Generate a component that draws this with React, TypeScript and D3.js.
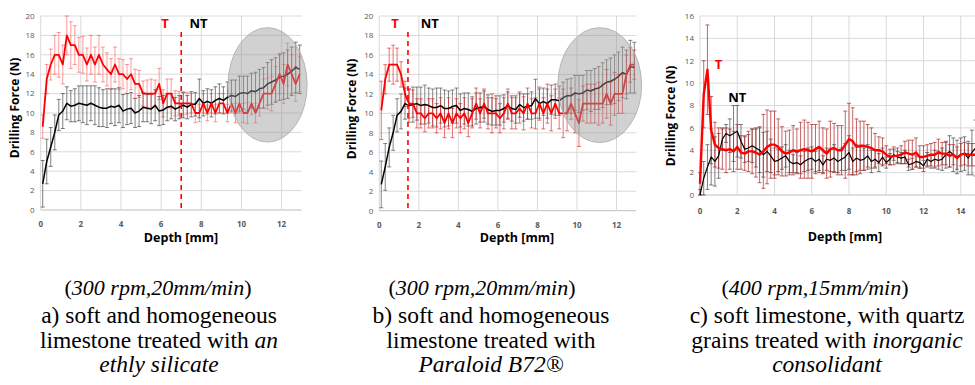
import React from 'react';
import * as d3 from 'd3';

// ---------- data ----------
const DEPTH_AB = d3.range(65).map((i) => +(0.1 + 0.2 * i).toFixed(1));
const DEPTH_C = d3.range(78).map((i) => +(0.2 * i).toFixed(1));

const X_TICKS_AB = [0, 2, 4, 6, 8, 10, 12];
const Y_TICKS_AB = [0, 2, 4, 6, 8, 10, 12, 14, 16, 18, 20];
const X_TICKS_C = [0, 2, 4, 6, 8, 10, 12, 14];
const Y_TICKS_C = [0, 2, 4, 6, 8, 10, 12, 14, 16];

const A_T = [
  8.6, 13.5, 15, 16, 16, 15, 18, 17, 17, 16,
  16, 15, 16, 15, 16, 15, 14.5, 14, 15, 14,
  14, 13.5, 14, 13, 13, 12, 12, 12, 12, 13,
  11, 12, 12, 11, 11, 11, 11, 11, 10, 10,
  11, 10, 11, 10, 11, 11, 10, 11, 10, 11,
  10, 10, 11, 10, 11, 12, 12, 12, 13, 14,
  13, 15, 14, 13, 14,
];
const A_T_ERR = [
  1.2, 1.5, 1.6, 2.0, 2.3, 2.0, 2.0, 2.4, 2.0, 1.8,
  1.9, 1.7, 2.0, 1.8, 2.0, 1.8, 1.7, 1.6, 1.8, 1.6,
  1.5, 1.5, 1.6, 1.5, 1.4, 1.3, 1.4, 1.5, 1.4, 1.6,
  1.4, 1.5, 1.5, 1.3, 1.2, 1.2, 1.1, 1.0, 1.0, 0.9,
  1.0, 0.8, 1.0, 0.9, 1.0, 1.0, 0.9, 1.0, 1.0, 1.0,
  1.0, 1.1, 1.2, 1.0, 1.3, 1.5, 1.6, 1.8, 1.8, 2.0,
  2.0, 2.2, 2.0, 1.8, 1.8,
];
const A_NT = [
  2.7, 5.0, 6.5, 8.0, 9.8, 10.2, 11.0, 10.7, 10.8, 11.0,
  10.9, 10.8, 11.0, 10.8, 10.6, 10.5, 10.5, 10.7, 10.6, 10.8,
  10.2, 10.4, 10.5, 10.0, 10.2, 10.6, 10.5, 10.4, 10.8, 10.2,
  10.3, 10.6, 10.7, 10.4, 10.6, 10.8, 10.6, 10.9, 10.9, 11.5,
  11.0, 11.2, 11.0, 11.3, 11.5, 11.3, 11.6, 11.8, 11.7, 12.0,
  12.1, 12.0, 12.3, 12.2, 12.5, 12.6, 13.0, 13.2, 13.4, 13.7,
  13.8, 14.0, 14.3, 14.7, 14.5,
];
const A_NT_ERR = [
  2.4, 2.3, 2.0, 1.8, 1.6, 1.8, 1.7, 1.6, 1.7, 1.8,
  1.9, 2.0, 1.8, 2.0, 2.0, 1.9, 2.0, 1.8, 1.9, 1.8,
  1.7, 1.6, 1.6, 1.5, 1.6, 1.5, 1.4, 1.5, 1.6, 1.5,
  1.5, 1.4, 1.3, 1.2, 1.2, 1.3, 1.2, 1.3, 1.2, 2.0,
  1.3, 1.3, 1.4, 1.4, 1.5, 1.4, 1.6, 1.6, 1.7, 1.8,
  1.7, 1.8, 1.8, 2.0, 2.0, 2.1, 2.2, 2.3, 2.3, 2.4,
  2.4, 2.5, 2.5, 2.6, 2.5,
];

const B_T = [
  10.3, 13.5, 15, 15, 15, 14, 12, 11, 11, 10,
  10, 9.5, 10, 10, 9.5, 10, 9, 10, 9, 10,
  9.5, 10, 9, 10, 11, 10, 11, 10, 10, 10,
  9.5, 10, 11, 10, 10, 10.5, 10, 11, 10, 10,
  11, 10, 11, 10, 11, 10, 10, 10, 11, 10,
  9, 11, 11, 11, 11, 11, 11, 12, 11, 12,
  12, 12, 14, 15, 15,
];
const B_T_ERR = [
  3.0, 1.5, 1.7, 2.0, 1.7, 1.3, 1.3, 1.5, 1.4, 1.5,
  1.5, 1.4, 1.5, 1.5, 1.5, 1.6, 1.5, 1.6, 1.5, 1.5,
  1.5, 1.6, 1.4, 1.5, 1.6, 1.5, 1.5, 1.6, 2.0, 1.5,
  1.5, 1.6, 1.5, 1.6, 1.6, 1.5, 1.7, 1.6, 1.5, 1.6,
  1.7, 1.6, 2.0, 1.8, 1.5, 1.6, 2.5, 1.8, 1.6, 2.0,
  2.4, 1.8, 2.0, 2.0, 2.0, 2.2, 2.0, 2.5, 2.2, 2.2,
  2.0, 2.0, 2.0, 1.8, 1.5,
];
const B_NT = [
  2.7, 4.5, 6.5, 8.0, 9.8, 10.2, 11.0, 10.8, 10.9, 11.0,
  10.8, 10.9, 10.8, 10.6, 10.6, 10.8, 10.5, 10.5, 10.7, 10.8,
  10.3, 10.5, 10.4, 10.2, 10.5, 10.6, 10.7, 10.4, 10.2, 10.3,
  10.3, 10.5, 10.8, 10.5, 10.4, 10.9, 10.6, 10.7, 10.8, 11.5,
  11.0, 11.2, 11.0, 11.4, 11.4, 11.3, 11.6, 11.8, 11.8, 12.1,
  12.0, 12.1, 12.4, 12.3, 12.5, 12.6, 12.9, 13.2, 13.3, 13.5,
  13.8, 14.2, 14.0, 14.8, 14.7,
];
const B_NT_ERR = [
  2.4, 2.4, 2.0, 1.8, 1.7, 1.8, 1.6, 1.7, 1.8, 1.7,
  1.9, 2.0, 1.8, 1.9, 2.0, 1.8, 1.9, 1.8, 1.7, 1.8,
  1.7, 1.6, 1.7, 1.5, 1.6, 1.5, 1.6, 1.5, 1.4, 1.5,
  1.5, 1.4, 1.4, 1.3, 1.4, 1.3, 1.4, 1.3, 1.4, 2.0,
  1.5, 1.4, 1.5, 1.5, 1.6, 1.5, 1.6, 1.7, 1.8, 1.8,
  1.9, 1.8, 2.0, 2.1, 2.1, 2.2, 2.3, 2.3, 2.4, 2.5,
  2.5, 2.6, 2.5, 2.7, 2.6,
];

const C_T = [
  1.0, 9.0, 11.2, 5.8, 4.5, 4.2, 4.1, 4.0, 4.1, 3.9,
  4.3, 3.8, 3.7, 3.9, 3.9, 3.8, 3.6, 3.9, 4.3, 4.5,
  4.5, 4.3, 3.9, 3.7, 3.8, 4.0, 3.9, 4.0, 4.1, 4.0,
  3.9, 4.1, 4.3, 4.0, 3.7, 4.1, 4.2, 4.0, 4.0, 4.5,
  5.0, 4.8, 4.3, 4.4, 4.4, 4.3, 4.2, 4.0, 4.0, 3.9,
  3.6, 3.4, 3.5, 3.5, 3.6, 3.8, 3.7, 3.6, 3.8, 3.4,
  3.4, 3.5, 3.6, 3.6, 3.8, 3.7, 3.7, 3.5, 3.6, 3.3,
  3.6, 3.7, 3.6, 3.6, 3.6, 3.7, 3.9, 3.8,
];
const C_T_ERR = [
  1.0, 3.0, 4.0, 3.0, 2.0, 1.8, 1.8, 2.0, 1.8, 1.8,
  2.0, 1.5, 1.5, 1.8, 2.0, 2.2, 2.5, 3.3, 3.3, 3.0,
  3.0, 2.5, 2.2, 2.0, 2.0, 2.2, 2.0, 2.5, 2.6, 2.5,
  2.4, 2.2, 2.3, 2.0, 2.2, 2.5, 2.2, 2.2, 2.2, 3.0,
  3.2, 3.0, 2.5, 2.2, 2.2, 2.0, 1.8, 1.5, 1.2, 1.2,
  0.8, 0.7, 0.8, 0.7, 0.8, 1.0, 1.2, 1.3, 1.3, 1.0,
  1.0, 1.0, 1.0, 1.1, 1.2, 1.0, 1.0, 1.0, 0.9, 1.0,
  1.0, 1.0, 1.0, 1.0, 1.0, 1.0, 1.0, 1.0,
];
const C_NT = [
  0.0, 1.5, 2.5, 3.4, 3.0, 3.5, 5.0, 5.5, 5.3, 5.5,
  5.7, 4.8, 4.1, 4.2, 4.4, 4.2, 4.0, 3.6, 3.9, 3.5,
  3.0, 3.1, 3.3, 3.5, 3.0, 2.8, 2.9, 2.7, 3.0, 3.2,
  3.3, 3.0, 3.2, 2.7, 3.2, 3.1, 3.3, 3.0, 3.2, 3.4,
  3.8, 3.0, 3.3, 3.1, 3.2, 3.5, 3.0, 3.2, 2.9, 3.4,
  2.9, 3.2, 3.6, 3.4, 3.3, 3.4, 2.7, 2.8, 3.0, 2.9,
  2.6, 3.2, 3.0, 3.2, 3.1, 3.2, 3.6, 3.9, 3.6, 3.4,
  3.6, 3.7, 3.3, 3.8, 4.2, 4.0, 4.2, 4.1,
];
const C_NT_ERR = [
  0.5, 1.5, 2.0, 2.5, 2.2, 2.0, 1.0, 0.8, 1.5, 2.5,
  2.3, 1.5, 1.2, 1.2, 1.5, 1.7, 2.0, 2.0, 1.8, 1.5,
  1.2, 1.0, 1.0, 1.0, 1.0, 0.8, 0.9, 0.8, 0.9, 1.0,
  1.0, 0.9, 1.0, 0.8, 1.0, 1.0, 1.2, 1.0, 1.0, 1.2,
  1.5, 1.2, 1.2, 1.2, 1.0, 1.0, 1.0, 0.8, 0.8, 0.8,
  0.5, 0.5, 0.5, 0.5, 0.5, 0.6, 0.5, 0.5, 0.5, 0.5,
  0.5, 0.6, 0.6, 0.8, 0.8, 1.0, 1.2, 1.4, 1.5, 1.5,
  1.5, 1.5, 1.5, 2.0, 2.5, 2.5, 2.5, 2.5,
];

// annotation values (data units)
const DIVIDE_A = 7.0;
const DIVIDE_B = 1.45;
const ELLIPSE_A = { cx: 11.3, cy: 12.9, rx: 1.97, ry: 5.9 };
const ELLIPSE_B = { cx: 11.15, cy: 12.9, rx: 2.12, ry: 5.9 };

const CAPTION_A = ['300 rpm,20mm/min', 'a) soft and homogeneous', 'limestone treated with ', 'an', 'ethly silicate'];
const CAPTION_B = ['300 rpm,20mm/min', 'b) soft and homogeneous', 'limestone treated with', '', 'Paraloid B72®'];
const CAPTION_C = ['400 rpm,15mm/min', 'c) soft limestone, with quartz', 'grains treated with ', 'inorganic', 'consolidant'];

// ---------- styles ----------
const SANS = "'Open Sans', 'Noto Sans', sans-serif";
const SERIF = "'Liberation Serif', 'DejaVu Serif', serif";
const TICK_COLOR = '#595959';
const GRID = '#d9d9d9';

type PanelProps = {
  left: number; right: number; top: number; bottom: number;
  xMax: number; yMax: number; xTicks: number[]; yTicks: number[];
  depth: number[]; t: number[]; tErr: number[]; nt: number[]; ntErr: number[];
  tColor: string; tErrColor: string; tErrOpacity: number; tWidth: number;
  ntErrColor: string; ntErrOpacity: number; ntWidth: number;
  divide?: number; ellipse?: { cx: number; cy: number; rx: number; ry: number };
  tLabel: [number, number]; ntLabel: [number, number];
  xTitleX: number; xTitleY: number; yTitleX: number; yTitleY: number;
  xLabelDy: number;
};

function ErrorBars({ depth, vals, errs, x, y, color, opacity }: any) {
  return (
    <g stroke={color} strokeOpacity={opacity} strokeWidth={0.9} fill="none">
      {depth.map((d: number, i: number) => {
        if (vals[i] == null) return null;
        const px = x(d);
        const y1 = y(vals[i] + errs[i]);
        const y0 = y(Math.max(0, vals[i] - errs[i]));
        return (
          <g key={i}>
            <line x1={px} x2={px} y1={y1} y2={y0} />
            <line x1={px - 2} x2={px + 2} y1={y1} y2={y1} />
            <line x1={px - 2} x2={px + 2} y1={y0} y2={y0} />
          </g>
        );
      })}
    </g>
  );
}

function Panel(p: PanelProps) {
  const x = d3.scaleLinear().domain([0, p.xMax]).range([p.left, p.right]);
  const y = d3.scaleLinear().domain([0, p.yMax]).range([p.bottom, p.top]);
  const n = Math.min(p.depth.length, p.t.length);
  const line = d3.line<number>().x((_, i) => x(p.depth[i])).y((v) => y(v));
  const tPath = line(p.t.slice(0, n)) || '';
  const ntPath = line(p.nt.slice(0, Math.min(p.depth.length, p.nt.length))) || '';
  const gridX = d3.range(0, p.xMax + 0.001, 2);
  return (
    <g>
      {p.yTicks.map((v) => (
        <line key={'gy' + v} x1={p.left} x2={p.right} y1={y(v)} y2={y(v)} stroke={v === 0 ? '#bfbfbf' : GRID} strokeWidth={1} />
      ))}
      {gridX.map((v) => (
        <line key={'gx' + v} x1={x(v)} x2={x(v)} y1={p.top} y2={p.bottom} stroke={GRID} strokeWidth={1} />
      ))}
      {p.yTicks.map((v) => (
        <text key={'ty' + v} x={p.left - 6} y={y(v)} dy="0.35em" textAnchor="end" fontFamily={SANS} fontSize={8} fill={TICK_COLOR}>{v}</text>
      ))}
      {p.xTicks.map((v) => (
        <text key={'tx' + v} x={x(v)} y={p.bottom + p.xLabelDy} textAnchor="middle" fontFamily={SANS} fontSize={8} fontWeight="bold" fill={TICK_COLOR}>{v}</text>
      ))}
      <ErrorBars depth={p.depth} vals={p.nt} errs={p.ntErr} x={x} y={y} color={p.ntErrColor} opacity={p.ntErrOpacity} />
      <ErrorBars depth={p.depth} vals={p.t} errs={p.tErr} x={x} y={y} color={p.tErrColor} opacity={p.tErrOpacity} />
      <path d={ntPath} fill="none" stroke="#000" strokeWidth={p.ntWidth} strokeLinejoin="round" />
      <path d={tPath} fill="none" stroke={p.tColor} strokeWidth={p.tWidth} strokeLinejoin="round" />
      {p.ellipse && (
        <ellipse
          cx={x(p.ellipse.cx)} cy={y(p.ellipse.cy)}
          rx={x(p.ellipse.rx) - x(0)} ry={y(0) - y(p.ellipse.ry)}
          fill="#9a9a9a" fillOpacity={0.45} stroke="#b5b5b5" strokeWidth={1}
        />
      )}
      {p.divide != null && (
        <line x1={x(p.divide)} x2={x(p.divide)} y1={y(18.35)} y2={p.bottom} stroke="#ff0000" strokeWidth={1.6} strokeDasharray="5,4" />
      )}
      <text x={x(p.tLabel[0])} y={y(p.tLabel[1])} textAnchor="middle" fontFamily={SANS} fontWeight="bold" fontSize={13} fill="#ff0000">T</text>
      <text x={x(p.ntLabel[0])} y={y(p.ntLabel[1])} textAnchor="middle" fontFamily={SANS} fontWeight="bold" fontSize={13} fill="#000">NT</text>
      <text x={p.xTitleX} y={p.xTitleY} textAnchor="middle" fontFamily={SANS} fontWeight="bold" fontSize={12.5} fill="#000">Depth [mm]</text>
      <text transform={`translate(${p.yTitleX},${p.yTitleY}) rotate(-90)`} textAnchor="middle" dy="0.35em" fontFamily={SANS} fontWeight="bold" fontSize={12} fill="#000">Drilling Force (N)</text>
    </g>
  );
}

function Caption({ lines, cx, pcx }: { lines: string[]; cx: number; pcx: number }) {
  return (
    <g fontFamily={SERIF} fill="#000" textAnchor="middle">
      <text x={pcx} y={295} fontSize={22}>
        (<tspan fontStyle="italic">{lines[0]}</tspan>)
      </text>
      <text x={cx} y={323} fontSize={23.5}>{lines[1]}</text>
      <text x={cx} y={348} fontSize={23.5}>
        {lines[2]}
        {lines[3] ? <tspan fontStyle="italic">{lines[3]}</tspan> : null}
      </text>
      <text x={cx} y={372} fontSize={23.5} fontStyle="italic">{lines[4]}</text>
    </g>
  );
}

export default function App() {
  return (
    <svg width={975} height={385} style={{ position: 'absolute', left: 0, top: 0, background: '#fff' }}>
      <rect width={975} height={385} fill="#fff" />
      <Panel
        left={40.7} right={301.7} top={16} bottom={210} xMax={13} yMax={20}
        xTicks={X_TICKS_AB} yTicks={Y_TICKS_AB} depth={DEPTH_AB}
        t={A_T} tErr={A_T_ERR} nt={A_NT} ntErr={A_NT_ERR}
        tColor="#ff0000" tErrColor="#ff3030" tErrOpacity={0.55} tWidth={1.8}
        ntErrColor="#404040" ntErrOpacity={0.75} ntWidth={1.5}
        divide={DIVIDE_A} ellipse={ELLIPSE_A}
        tLabel={[6.19, 18.8]} ntLabel={[7.86, 18.8]}
        xTitleX={181} xTitleY={242} yTitleX={15} yTitleY={108} xLabelDy={17}
      />
      <Panel
        left={379.3} right={636.3} top={16} bottom={210.7} xMax={13} yMax={20}
        xTicks={X_TICKS_AB} yTicks={Y_TICKS_AB} depth={DEPTH_AB}
        t={B_T} tErr={B_T_ERR} nt={B_NT} ntErr={B_NT_ERR}
        tColor="#ff0000" tErrColor="#e02020" tErrOpacity={0.7} tWidth={1.8}
        ntErrColor="#404040" ntErrOpacity={0.7} ntWidth={1.5}
        divide={DIVIDE_B} ellipse={ELLIPSE_B}
        tLabel={[0.8, 18.8]} ntLabel={[2.55, 18.8]}
        xTitleX={517} xTitleY={242} yTitleX={352} yTitleY={109} xLabelDy={17}
      />
      <Panel
        left={700} right={998} top={16} bottom={195} xMax={16} yMax={16}
        xTicks={X_TICKS_C} yTicks={Y_TICKS_C} depth={DEPTH_C}
        t={C_T} tErr={C_T_ERR} nt={C_NT} ntErr={C_NT_ERR}
        tColor="#ff0000" tErrColor="#b02828" tErrOpacity={0.8} tWidth={2.4}
        ntErrColor="#404040" ntErrOpacity={0.75} ntWidth={1.2}
        tLabel={[0.99, 11.3]} ntLabel={[2.0, 8.3]}
        xTitleX={845} xTitleY={241} yTitleX={671} yTitleY={116} xLabelDy={19}
      />
      <Caption lines={CAPTION_A} cx={159} pcx={158} />
      <Caption lines={CAPTION_B} cx={491} pcx={482} />
      <Caption lines={CAPTION_C} cx={827} pcx={815} />
    </svg>
  );
}
